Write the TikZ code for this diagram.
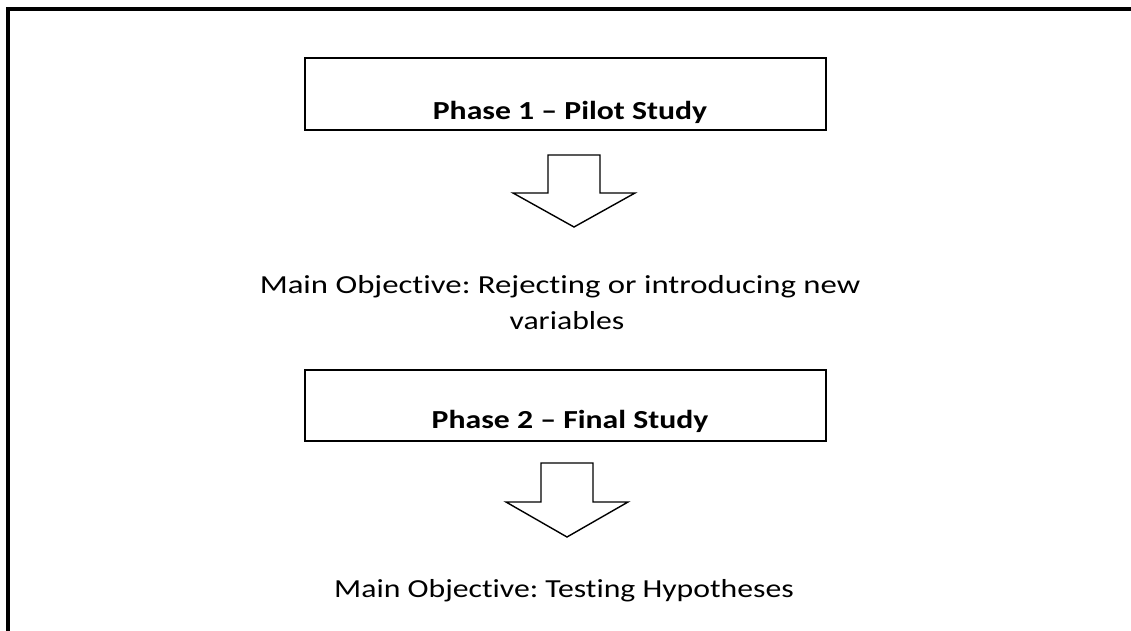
\documentclass[tikz,border=0pt]{standalone}
\usepackage{fontspec}
\setmainfont[Ligatures=NoCommon]{Carlito}
\frenchspacing
\newcommand{\widetext}[1]{\scalebox{1.22}[1]{#1}}
\begin{document}
\begin{tikzpicture}[x=1pt,y=-1pt,
  frameline/.style={line width=4pt},
  phasebox/.style={draw,line width=2pt},
  blockarrow/.style={draw,line width=1.4pt,line join=miter},
  phasetext/.style={font=\fontsize{26}{31}\selectfont\bfseries,anchor=base},
  objtext/.style={font=\fontsize{26}{31}\selectfont,anchor=base}]
  \useasboundingbox (0,0) rectangle (1131,631);
  % open frame: left and top sides
  \draw[frameline] (8,631) -- (8,9) -- (1131,9);
  % phase 1
  \node[phasebox,minimum width=521pt,minimum height=72pt] (box1) at (565.5,94) {};
  \node[phasetext] (p1) at (570,120) {\widetext{Phase 1 – Pilot Study}};
  \draw[blockarrow] (548,155) -- (600,155) -- (600,193) -- (635,193) -- (574,227)
    -- (513,193) -- (548,193) -- cycle;
  \node[objtext] (o1a) at (560,293) {\scalebox{1.26}[1]{Main Objective: Rejecting or introducing new}};
  \node[objtext] (o1b) at (567,329) {\widetext{variables}};
  % phase 2
  \node[phasebox,minimum width=521pt,minimum height=71pt] (box2) at (565.5,405.5) {};
  \node[phasetext] (p2) at (570,428) {\widetext{Phase 2 – Final Study}};
  \draw[blockarrow] (541,463) -- (593,463) -- (593,502) -- (628,502) -- (567,537)
    -- (506,502) -- (541,502) -- cycle;
  \node[objtext] (o2) at (564,597) {\widetext{Main Objective: Testing Hypotheses}};
\end{tikzpicture}
\end{document}
